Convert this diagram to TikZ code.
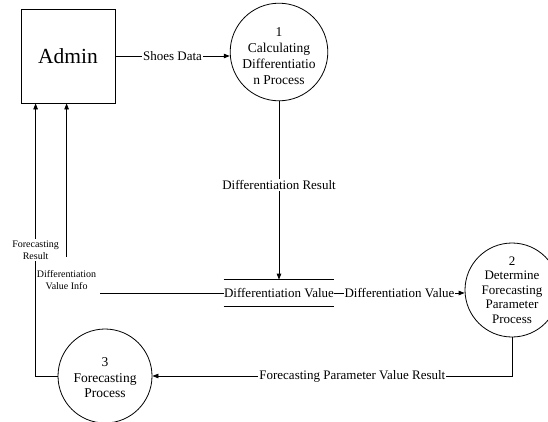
\documentclass[tikz,border=0pt]{standalone}
\usepackage{fontspec}
\setmainfont{Liberation Serif}
\usetikzlibrary{arrows.meta}
\begin{document}
\begin{tikzpicture}[x=1pt,y=-1pt,
  line width=0.8pt,
  flow/.style={-{Triangle[length=6pt,width=4.5pt]}},
  entity/.style={draw,minimum width=94pt,minimum height=94pt,inner sep=0pt,font=\fontsize{21.5}{24}\selectfont},
  proc/.style={draw,circle,minimum size=96pt,inner sep=0pt,align=center,font=\fontsize{13.5}{16}\selectfont},
  storebox/.style={minimum width=110pt,minimum height=26pt,inner sep=0pt,font=\fontsize{13}{15}\selectfont},
  lbl/.style={fill=white,inner sep=1pt,font=\fontsize{13}{15}\selectfont},
  small/.style={fill=white,align=center,inner xsep=2pt,font=\fontsize{10}{11.5}\selectfont},
]
\useasboundingbox (0,0) rectangle (548,421);

% external entity, processes and data store
\node[entity] (admin) at (68,56) {Admin};
\node[proc] (p1) at (279,52) {\rule{0pt}{17pt}1\\Calculating\\Differentiatio\\n Process};
\node[proc,minimum size=94pt,font=\fontsize{13}{14.5}\selectfont] (p2) at (512,290) {2\\Determine\\Forecasting\\Parameter\\Process};
\node[proc,minimum size=94pt,font=\fontsize{13.5}{15.5}\selectfont] (p3) at (105,376) {\rule{0pt}{13pt}3\\Forecasting\\Process};
\node[storebox] (store) at (279,293) {Differentiation Value};
\draw (store.north west) -- (store.north east);
\draw (store.south west) -- (store.south east);

% data flows
\draw[flow] (admin.east) -- (admin.east -| p1.west)
  node[lbl,midway] (shoes) {Shoes Data};
\draw[flow] (p1.south) -- (store.north)
  node[lbl,pos=0.47] (dres) {Differentiation Result};
\draw[flow] (store.east) -- (store.east -| p2.west)
  node[lbl,midway] (dval) {Differentiation Value};
\draw[flow] (p2.south) |- (p3.east)
  node[lbl,pos=0.722] (fpvr) {Forecasting Parameter Value Result};
\draw[flow] (store.west) -| ([xshift=46pt]admin.south west)
  node[small,pos=0.534,minimum height=46pt,minimum width=66pt] (dvi) {Differentiation\\Value Info};
\draw[flow] (p3.west) -| ([xshift=15pt]admin.south west)
  node[small,pos=0.731,inner ysep=2pt] (fres) {Forecasting\\Result};
\end{tikzpicture}
\end{document}
